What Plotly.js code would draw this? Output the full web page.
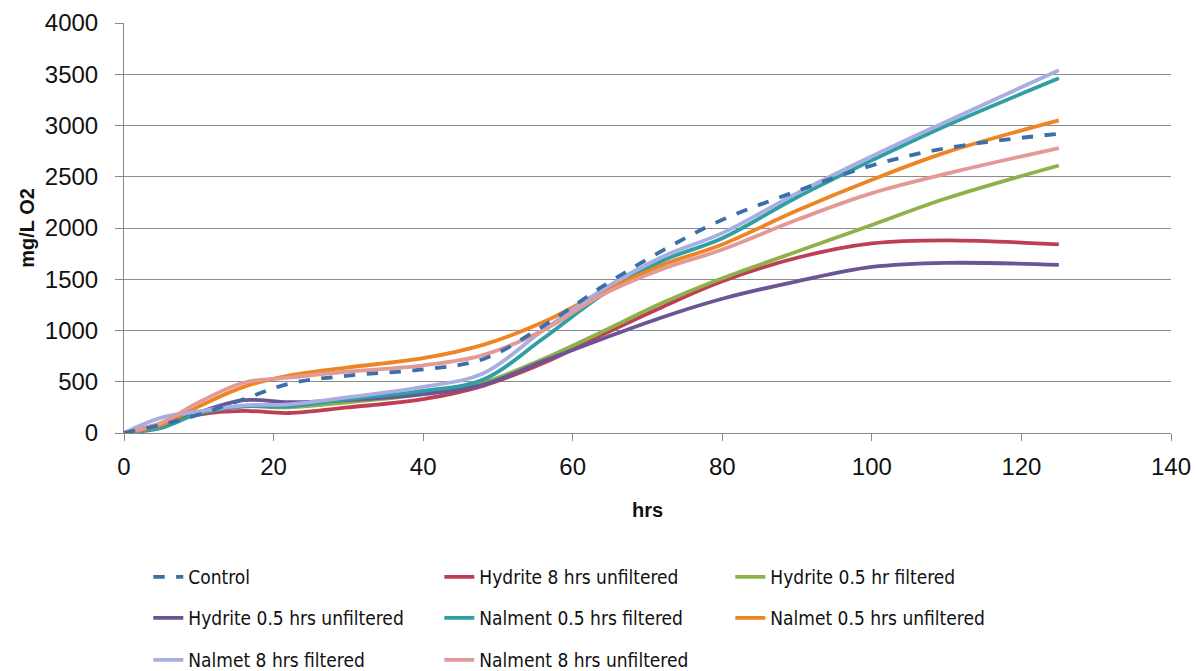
<!DOCTYPE html>
<html>
<head>
<meta charset="utf-8">
<script src="https://cdn.plot.ly/plotly-3.0.1.min.js"></script>
<style>html,body{margin:0;padding:0;background:#fff;}#chart{width:1196px;height:671px;}</style>
</head>
<body>
<div id="chart"></div>
<script>
const hours = [0, 5, 10, 16, 22, 30, 40, 48, 56, 64, 72, 80, 90, 100, 110, 125];
const control = [0, 80, 180, 330, 480, 560, 620, 720, 1040, 1430, 1780, 2080, 2360, 2610, 2780, 2920];
const hydrite8Unf = [0, 90, 180, 215, 195, 250, 330, 460, 680, 960, 1230, 1480, 1710, 1850, 1880, 1840];
const hydrite05Filt = [0, 60, 190, 260, 250, 300, 380, 490, 720, 990, 1270, 1510, 1770, 2030, 2290, 2610];
const hydrite05Unf = [0, 70, 200, 320, 300, 320, 380, 470, 700, 920, 1130, 1310, 1480, 1620, 1660, 1640];
const nalment05Filt = [0, 50, 190, 260, 260, 330, 410, 520, 920, 1350, 1680, 1900, 2300, 2660, 3000, 3460];
const nalmet05Unf = [0, 80, 260, 450, 560, 640, 730, 860, 1080, 1380, 1640, 1840, 2170, 2470, 2740, 3050];
const nalmet8Filt = [0, 150, 210, 270, 280, 350, 450, 580, 1000, 1400, 1720, 1950, 2340, 2700, 3040, 3540];
const nalment8Unf = [0, 100, 300, 490, 540, 600, 660, 760, 1000, 1350, 1600, 1790, 2080, 2340, 2530, 2780];

const seriesNames = ["Control", "Hydrite 8 hrs unfiltered", "Hydrite 0.5 hr filtered",
  "Hydrite 0.5 hrs unfiltered", "Nalment 0.5 hrs filtered", "Nalmet 0.5 hrs unfiltered",
  "Nalmet 8 hrs filtered", "Nalment 8 hrs unfiltered"];
const seriesValues = [control, hydrite8Unf, hydrite05Filt, hydrite05Unf, nalment05Filt, nalmet05Unf, nalmet8Filt, nalment8Unf];
const colors = ["#3c6fa8", "#be3f55", "#8fb14a", "#6a5596", "#2e9fa3", "#ee8424", "#a8aee2", "#e39a96"];
const legendIds = ["legend", "legend", "legend", "legend2", "legend2", "legend2", "legend3", "legend3"];

const traces = seriesNames.map((n, i) => ({
  x: hours, y: seriesValues[i], name: n, type: "scatter", mode: "lines",
  line: {color: colors[i], width: 3.8, shape: "spline", smoothing: 1, dash: i === 0 ? "dash" : "solid"},
  legend: legendIds[i], legendrank: i + 1
}));
// draw control on top
const ordered = traces.slice(1).concat([traces[0]]);

const legFont = {family: "DejaVu Sans Condensed, Liberation Sans, Arial", size: 19, color: "#111"};
const legBase = {orientation: "h", xref: "container", yref: "container", x: 0.124, xanchor: "left",
  yanchor: "middle", entrywidth: 246, entrywidthmode: "pixels", font: legFont, bgcolor: "rgba(0,0,0,0)",
  traceorder: "normal"};

const tickFont = {size: 24, family: "Liberation Sans, Arial", color: "#111"};
const layout = {
  width: 1196, height: 671,
  margin: {l: 124, r: 25, t: 23, b: 238},
  paper_bgcolor: "#fff", plot_bgcolor: "#fff",
  font: {family: "Liberation Sans, Arial", color: "#111"},
  xaxis: {range: [0, 140], dtick: 20, tick0: 0, showgrid: false, zeroline: false,
    showline: true, linecolor: "#888", linewidth: 1, ticks: "outside", ticklen: 7, tickcolor: "#888",
    tickfont: tickFont, ticklabelstandoff: 5,
    title: {text: "hrs", font: {size: 20, family: "Liberation Sans, Arial", weight: "bold", color: "#111"}, standoff: 24}},
  yaxis: {range: [0, 4000], dtick: 500, showgrid: true, gridcolor: "#8c8c8c", gridwidth: 1, zeroline: false,
    showline: true, linecolor: "#888", linewidth: 1, ticks: "outside", ticklen: 8, tickcolor: "#888",
    tickfont: tickFont, ticklabelstandoff: 12,
    title: {text: "mg/L O2", font: {size: 20, family: "Liberation Sans, Arial", weight: "bold", color: "#111"}, standoff: 4}},
  legend: Object.assign({}, legBase, {y: 1 - 577/671}),
  legend2: Object.assign({}, legBase, {y: 1 - 618/671}),
  legend3: Object.assign({}, legBase, {y: 1 - 660/671}),
  showlegend: true
};
Plotly.newPlot("chart", ordered, layout, {displayModeBar: false, staticPlot: true});
</script>
</body>
</html>
